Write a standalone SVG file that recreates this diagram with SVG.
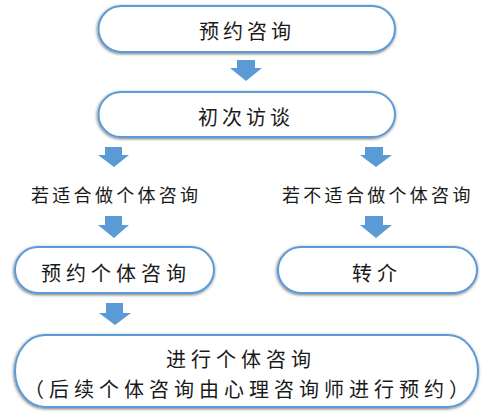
<svg xmlns="http://www.w3.org/2000/svg" width="500" height="417" viewBox="0 0 500 417">
<defs>
<filter id="sh" x="-10%" y="-20%" width="120%" height="150%">
<feDropShadow dx="-0.5" dy="1" stdDeviation="1.6" flood-color="#000" flood-opacity="0.55"/>
</filter>
</defs>
<style>
.box{fill:#fff;stroke:#5b9bd5;stroke-width:2;filter:url(#sh)}
.arr{fill:#5b9bd5}
text{font-family:"Noto Sans CJK SC","Noto Sans CJK JP",sans-serif;fill:#1a1a1a;text-anchor:start;dominant-baseline:central}
.t20{font-size:20px;letter-spacing:4px}
.t20w{font-size:20px;letter-spacing:5px}
.t18{font-size:18px;letter-spacing:3.3px}
</style>
<rect width="500" height="417" fill="#fff"/>
<g id="connectors">
<polygon class="arr" points="237,60 255,60 255,68 262,68 246,81 230,68 237,68"/>
<polygon class="arr" points="105,147 122,147 122,155 129,155 114,167 98,155 105,155"/>
<polygon class="arr" points="365,147 383,147 383,155 392,155 376,167 360,155 365,155"/>
<polygon class="arr" points="105,216 122,216 122,225 129,225 114,238 98,225 105,225"/>
<polygon class="arr" points="365,216 383,216 383,225 392,225 376,238 360,225 365,225"/>
<polygon class="arr" points="106,303 123,303 123,313 131,313 115,325 99,313 106,313"/>
</g>
<g id="n1">
<rect class="box" x="98.5" y="6" width="296.5" height="46" rx="23" ry="23"/>
<text class="t20" x="199" y="30">预约咨询</text>
</g>
<g id="n2">
<rect class="box" x="98.5" y="92" width="296.5" height="45" rx="22.5" ry="22.5"/>
<text class="t20" x="198" y="116">初次访谈</text>
</g>
<g id="l1">
<text class="t18" x="31" y="194">若适合做个体咨询</text>
</g>
<g id="l2">
<text class="t18" x="282" y="194">若不适合做个体咨询</text>
</g>
<g id="n3">
<rect class="box" x="15" y="247" width="199" height="46" rx="23" ry="23"/>
<text class="t20w" x="41" y="272">预约个体咨询</text>
</g>
<g id="n4">
<rect class="box" x="278" y="247" width="199" height="46" rx="23" ry="23"/>
<text class="t20w" x="352" y="272">转介</text>
</g>
<g id="n5">
<rect class="box" x="15" y="335" width="463" height="72" rx="30" ry="36"/>
<text class="t20w" x="166" y="358">进行个体咨询</text>
<text class="t20w" x="24" y="388">（后续个体咨询由心理咨询师进行预约）</text>
</g>
</svg>
